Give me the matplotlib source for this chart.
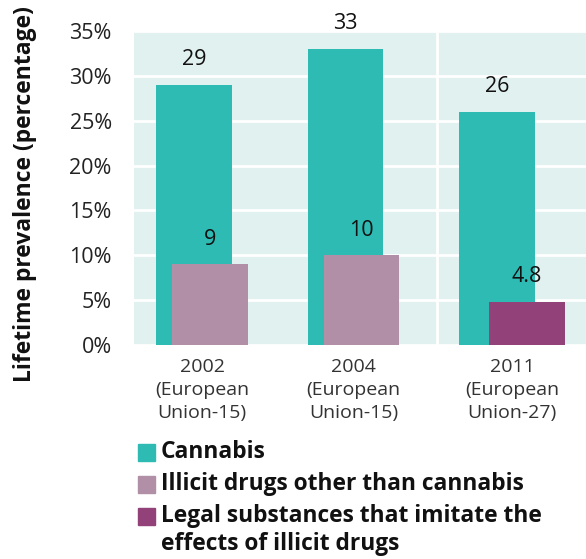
import matplotlib
matplotlib.use('Agg')
import matplotlib.pyplot as plt
from matplotlib.patches import Rectangle
import numpy as np

# Data
years      = ['2002\n(European\nUnion-15)', '2004\n(European\nUnion-15)', '2011\n(European\nUnion-27)']
cannabis   = [29, 33, 26]
other      = [9, 10, 4.8]
other_lbl  = ['9', '10', '4.8']
cann_lbl   = ['29', '33', '26']
series     = ['Cannabis',
              'Illicit drugs other than cannabis',
              'Legal substances that imitate the\neffects of illicit drugs']

c_cann  = '#2dbbb4'
c_illi  = '#b18fa7'
c_legal = '#924279'
other_colors = [c_illi, c_illi, c_legal]
shift = [0.106, 0.106, 0.198]   # how far the second bar sits to the right

plt.rcParams['font.family'] = ['Open Sans', 'DejaVu Sans']

fig = plt.figure(figsize=(5.86, 5.59), dpi=100)
ax = fig.add_axes([0.2287, 0.3828, 0.7713, 0.5617])
ax.set_facecolor('#e1f1f0')

x = np.arange(len(years))
w = 0.5
ax.bar(x, cannabis, width=w, color=c_cann, zorder=3)
ax.bar(x + np.array(shift), other, width=w, color=other_colors, zorder=4)

for i in range(len(x)):
    ax.annotate(cann_lbl[i], (x[i], cannabis[i]), xytext=(0, 18), textcoords='offset points',
                ha='center', va='center', fontsize=15.5, color='#111111', zorder=5)
    ax.annotate(other_lbl[i], (x[i] + shift[i], other[i]), xytext=(0, 18), textcoords='offset points',
                ha='center', va='center', fontsize=15.5, color='#111111', zorder=5)

ax.set_ylim(0, 35)
ax.set_xlim(-0.396, 2.587)
ax.set_yticks(np.arange(0, 36, 5))
ax.set_yticklabels([str(v) + '%' for v in range(0, 36, 5)])
ax.set_xticks(x + np.array(shift) / 2)
ax.set_xticklabels(years, linespacing=1.38)
ax.tick_params(axis='y', length=0, pad=16, labelsize=15.5, labelcolor='#222222')
ax.tick_params(axis='x', length=0, pad=9, labelsize=14, labelcolor='#333333')

ax.yaxis.grid(True, color='white', linewidth=2, zorder=1)
ax.axvline(1.604, color='white', linewidth=2, zorder=1)
ax.set_axisbelow(True)
for s in ax.spines.values():
    s.set_visible(False)

fig.text(0.043, 0.653, 'Lifetime prevalence (percentage)', rotation=90, ha='center', va='center',
         fontsize=16.5, fontweight='bold', color='#111111')

# Legend
leg_colors = [c_cann, c_illi, c_legal]
rows_y = [452, 484, 516]
for i in range(3):
    yc = 1 - rows_y[i] / 559
    fig.add_artist(Rectangle((138 / 586, yc - 8.5 / 559), 17 / 586, 17 / 559,
                             color=leg_colors[i], transform=fig.transFigure))
    fig.text(161 / 586, yc + 12 / 559, series[i], ha='left', va='top', fontsize=16.4,
             fontweight='bold', color='#111111', linespacing=1.2)

plt.savefig('out.png', dpi=100)
